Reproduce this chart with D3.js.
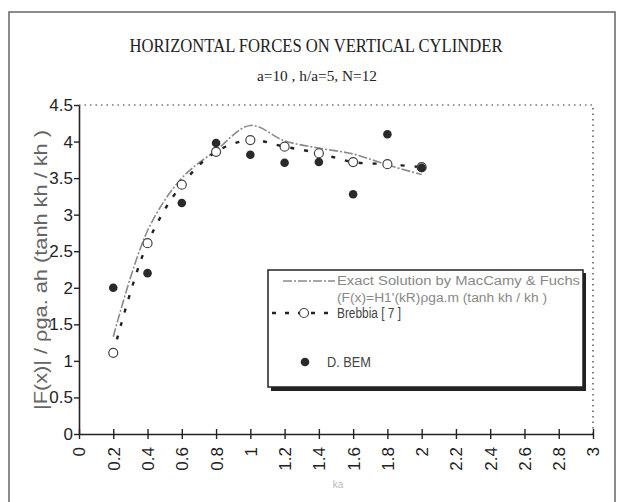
<!DOCTYPE html>
<html>
<head>
<meta charset="utf-8">
<script src="https://cdn.jsdelivr.net/npm/d3@7"></script>
<style>
  body { margin: 0; background: #fff; }
</style>
</head>
<body>
<div id="chart"></div>
<script>
// values
const kaValues = [0.2, 0.4, 0.6, 0.8, 1.0, 1.2, 1.4, 1.6, 1.8, 2.0];
const exactSolution = [1.33, 2.78, 3.5, 3.88, 4.22, 4.01, 3.91, 3.83, 3.68, 3.55];
const brebbia = [1.11, 2.61, 3.41, 3.86, 4.02, 3.93, 3.84, 3.72, 3.69, 3.65];
const dbem = [2.0, 2.2, 3.16, 3.98, 3.82, 3.71, 3.72, 3.28, 4.1, 3.64];
const xTicks = [0, 0.2, 0.4, 0.6, 0.8, 1, 1.2, 1.4, 1.6, 1.8, 2, 2.2, 2.4, 2.6, 2.8, 3];
const yTicks = [0, 0.5, 1, 1.5, 2, 2.5, 3, 3.5, 4, 4.5];

const width = 617;
const height = 502;
const margin = { top: 105, right: 23, bottom: 68, left: 79 };

const svg = d3
  .select('#chart')
  .append('svg')
  .attr('width', width)
  .attr('height', height);

// outer frame (no bottom edge in the scan)
svg
  .append('path')
  .attr('d', `M9,${height} V12 H615 V${height}`)
  .attr('fill', 'none')
  .attr('stroke', '#666')
  .attr('stroke-width', 1.5);

const x = d3
  .scaleLinear()
  .domain([0, 3])
  .range([margin.left, width - margin.right - 1]);

const y = d3
  .scaleLinear()
  .domain([0, 4.5])
  .range([height - margin.bottom, margin.top]);

// dotted top and right frame of plot area
svg
  .append('path')
  .attr('d', `M${x(0)},${y(4.5)} H${x(3)} V${y(0)}`)
  .attr('fill', 'none')
  .attr('stroke', '#333')
  .attr('stroke-width', 1.2)
  .attr('stroke-dasharray', '1.5,4');

const xAxis = svg
  .append('g')
  .attr('transform', `translate(0, ${y(0)})`)
  .call(d3.axisBottom(x).tickValues(xTicks).tickFormat(d3.format('')).tickSize(5).tickSizeOuter(0));
xAxis.select('.domain').attr('stroke', '#222').attr('stroke-width', 1.6);
xAxis.selectAll('.tick line').attr('y1', -5).attr('y2', 5).attr('stroke', '#222').attr('stroke-width', 1.4);
xAxis
  .selectAll('.tick text')
  .attr('transform', 'rotate(-90)')
  .attr('text-anchor', 'end')
  .attr('x', -13)
  .attr('y', 0)
  .attr('dy', '0.35em')
  .attr('font-family', 'Liberation Sans, Arial, sans-serif')
  .attr('font-size', 17)
  .attr('fill', '#222');

const yAxis = svg
  .append('g')
  .attr('transform', `translate(${x(0)}, 0)`)
  .call(d3.axisLeft(y).tickValues(yTicks).tickFormat(d3.format('')).tickSize(5).tickPadding(1).tickSizeOuter(0));
yAxis.select('.domain').attr('stroke', '#222').attr('stroke-width', 1.6);
yAxis.selectAll('.tick line').attr('stroke', '#222').attr('stroke-width', 1.4);
yAxis
  .selectAll('.tick text')
  .attr('font-family', 'Liberation Sans, Arial, sans-serif')
  .attr('font-size', 17)
  .attr('fill', '#222');

// titles
svg
  .append('text')
  .attr('x', 316)
  .attr('y', 52)
  .attr('text-anchor', 'middle')
  .attr('font-family', 'Liberation Serif, Times New Roman, serif')
  .attr('font-size', 18)
  .attr('textLength', 373)
  .attr('lengthAdjust', 'spacingAndGlyphs')
  .attr('fill', '#222')
  .text('HORIZONTAL FORCES ON VERTICAL CYLINDER');

svg
  .append('text')
  .attr('x', 317)
  .attr('y', 81)
  .attr('text-anchor', 'middle')
  .attr('font-family', 'Liberation Serif, Times New Roman, serif')
  .attr('font-size', 15)
  .attr('textLength', 120)
  .attr('lengthAdjust', 'spacingAndGlyphs')
  .attr('fill', '#222')
  .text('a=10 , h/a=5, N=12');

svg
  .append('text')
  .attr('transform', 'translate(47, 270) rotate(-90)')
  .attr('text-anchor', 'middle')
  .attr('font-family', 'Liberation Sans, Arial, sans-serif')
  .attr('font-size', 18)
  .attr('textLength', 280)
  .attr('lengthAdjust', 'spacingAndGlyphs')
  .attr('fill', '#666')
  .text('|F(x)| / ρga. ah (tanh kh / kh )');

svg
  .append('text')
  .attr('x', 338)
  .attr('y', 488)
  .attr('text-anchor', 'middle')
  .attr('font-family', 'Liberation Sans, Arial, sans-serif')
  .attr('font-size', 10)
  .attr('fill', '#bbb')
  .text('ka');

// series
const seriesLine = d3
  .line()
  .x((d, i) => x(kaValues[i]))
  .y((d) => y(d))
  .curve(d3.curveCatmullRom.alpha(0.5));

svg
  .append('path')
  .datum(exactSolution)
  .attr('d', seriesLine)
  .attr('fill', 'none')
  .attr('stroke', '#8a8a8a')
  .attr('stroke-width', 1.6)
  .attr('stroke-dasharray', '9,2,2,2');

svg
  .append('path')
  .datum(brebbia)
  .attr('d', seriesLine)
  .attr('fill', 'none')
  .attr('stroke', '#222')
  .attr('stroke-width', 2.4)
  .attr('stroke-dasharray', '4,10');

svg
  .append('g')
  .selectAll('circle')
  .data(brebbia)
  .enter()
  .append('circle')
  .attr('cx', (d, i) => x(kaValues[i]))
  .attr('cy', (d) => y(d))
  .attr('r', 4.5)
  .attr('fill', '#fff')
  .attr('stroke', '#444')
  .attr('stroke-width', 1.2);

svg
  .append('g')
  .selectAll('circle')
  .data(dbem)
  .enter()
  .append('circle')
  .attr('cx', (d, i) => x(kaValues[i]))
  .attr('cy', (d) => y(d))
  .attr('r', 4.3)
  .attr('fill', '#2a2a2a');

// legend
const legend = svg.append('g');
legend
  .append('rect')
  .attr('x', 271)
  .attr('y', 273)
  .attr('width', 315)
  .attr('height', 118)
  .attr('fill', '#222');
legend
  .append('rect')
  .attr('x', 268)
  .attr('y', 270)
  .attr('width', 315)
  .attr('height', 117)
  .attr('fill', '#fff')
  .attr('stroke', '#222')
  .attr('stroke-width', 1.5);

legend
  .append('line')
  .attr('x1', 283)
  .attr('x2', 335)
  .attr('y1', 281)
  .attr('y2', 281)
  .attr('stroke', '#8a8a8a')
  .attr('stroke-width', 1.6)
  .attr('stroke-dasharray', '9,2,2,2');

legend
  .append('line')
  .attr('x1', 272)
  .attr('x2', 336)
  .attr('y1', 313)
  .attr('y2', 313)
  .attr('stroke', '#222')
  .attr('stroke-width', 2.4)
  .attr('stroke-dasharray', '4,9');
legend
  .append('circle')
  .attr('cx', 304)
  .attr('cy', 313)
  .attr('r', 4.5)
  .attr('fill', '#fff')
  .attr('stroke', '#444')
  .attr('stroke-width', 1.2);

legend
  .append('circle')
  .attr('cx', 305)
  .attr('cy', 362)
  .attr('r', 4.3)
  .attr('fill', '#2a2a2a');

const legendText = [
  { t: 'Exact Solution by MacCamy & Fuchs', x: 337, y: 285, c: '#888', size: 12.5, len: 243 },
  { t: "(F(x)=H1'(kR)ρga.m (tanh kh / kh )", x: 337, y: 302, c: '#888', size: 12.5, len: 210 },
  { t: 'Brebbia [ 7 ]', x: 337, y: 318, c: '#444', size: 14, len: 64 },
  { t: 'D. BEM', x: 327, y: 367, c: '#444', size: 14, len: 44 }
];
legend
  .selectAll('text')
  .data(legendText)
  .enter()
  .append('text')
  .attr('x', (d) => d.x)
  .attr('y', (d) => d.y)
  .attr('font-family', 'Liberation Sans, Arial, sans-serif')
  .attr('font-size', (d) => d.size)
  .attr('textLength', (d) => d.len)
  .attr('lengthAdjust', 'spacingAndGlyphs')
  .attr('fill', (d) => d.c)
  .text((d) => d.t);
</script>
</body>
</html>
